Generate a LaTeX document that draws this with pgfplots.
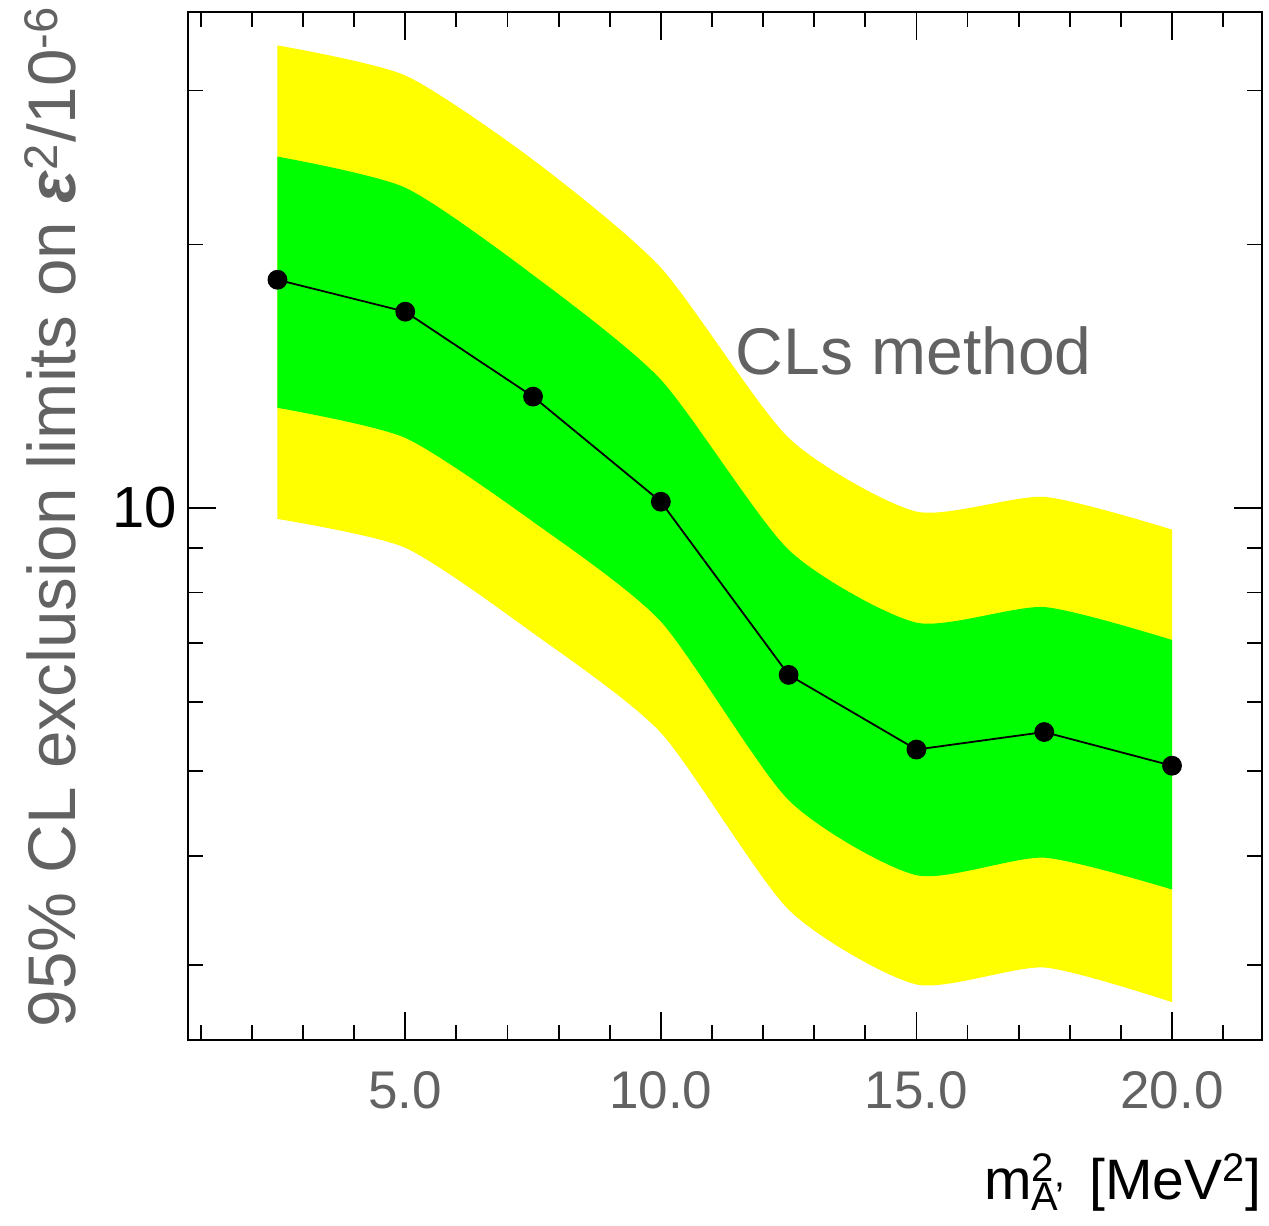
\documentclass[border=0pt]{standalone}
\usepackage{pgfplots}
\pgfplotsset{compat=1.18}
\usepackage{pgfplotstable}
\usepgfplotslibrary{fillbetween}
\usepackage{fontspec}
\setmainfont{Liberation Sans}

\definecolor{labelgray}{RGB}{98,98,98}
\definecolor{bandyellow}{RGB}{255,255,0}
\definecolor{bandgreen}{RGB}{0,255,0}

% expected limit (median) with 1 sigma (green) and 2 sigma (yellow) bands
\pgfplotstableread{
m2    med    glo    ghi    ylo    yhi
2.5   18.23  13.01  25.21  9.71   33.79
5.0   16.76  12.02  23.23  9.00   31.22
7.5   13.40  9.64   18.46  7.19   25.00
10.0  10.16  7.41   14.01  5.53   18.82
12.5  6.44   4.63   8.95   3.47   12.02
15.0  5.29   3.80   7.39   2.85   9.90
17.5  5.54   3.98   7.70   2.98   10.29
20.0  5.07   3.66   7.06   2.72   9.44
}\limits

\begin{document}
\begin{tikzpicture}
\begin{axis}[
  name=ax,
  scale only axis,
  width=537pt, height=514pt,
  ymode=log,
  xmin=0.75, xmax=21.76,
  ymin=2.462, ymax=36.9,
  axis line style={black, line width=1pt},
  tick style={black, line width=0.9pt},
  major tick length=14pt,
  minor tick length=7.5pt,
  tick align=inside,
  xtick={5,10,15,20},
  xticklabels={5.0,10.0,15.0,20.0},
  minor xtick={1,2,...,21},
  ytick={10},
  yticklabels={10},
  minor ytick={3,4,5,6,7,8,9,20,30},
  /pgf/number format/assume math mode=true,
  xticklabel style={text=labelgray, yshift=-12pt, font=\fontsize{26.5}{30}\selectfont},
  yticklabel style={text=black, xshift=-2pt, font=\fontsize{29}{33}\selectfont},
  xlabel={m\rlap{\textsuperscript{2}}\textsubscript{A'}\hspace{0.15em} [MeV\textsuperscript{2}]},
  xlabel style={at={(axis description cs:1,-0.1556)}, anchor=base east,
    inner sep=0pt, text=black, font=\fontsize{28.5}{32}\selectfont},
  ylabel={95\% CL exclusion limits on \textbf{\textit{ε}}\textsuperscript{2}/10\textsuperscript{-6}},
  ylabel style={at={(axis description cs:-0.105,1.006)}, anchor=base east,
    inner sep=0pt, text=labelgray, font=\fontsize{33.7}{38}\selectfont},
]
  \addplot[name path=yhi, draw=none, smooth, tension=0.4] table[x=m2, y=yhi] {\limits};
  \addplot[name path=ylo, draw=none, smooth, tension=0.4] table[x=m2, y=ylo] {\limits};
  \addplot[bandyellow] fill between[of=yhi and ylo];
  \addplot[name path=ghi, draw=none, smooth, tension=0.4] table[x=m2, y=ghi] {\limits};
  \addplot[name path=glo, draw=none, smooth, tension=0.4] table[x=m2, y=glo] {\limits};
  \addplot[bandgreen] fill between[of=ghi and glo];
  \addplot[black, line width=0.9pt, mark=*, mark size=4.5pt] table[x=m2, y=med] {\limits};
  \node[anchor=base west, inner sep=0pt, text=labelgray,
        font=\fontsize{33}{38}\selectfont] at (axis cs:11.46,14.19) {CLs method};
\end{axis}
\pgfresetboundingbox
\useasboundingbox ([shift={(-94pt,-93pt)}]ax.south west) rectangle ([shift={(3.5pt,6pt)}]ax.north east);
\end{tikzpicture}
\end{document}
